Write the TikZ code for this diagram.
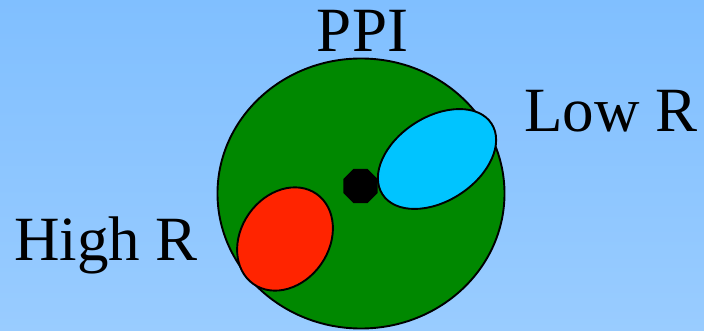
\documentclass[tikz,border=0pt]{standalone}
\usepackage{fontspec}
\setmainfont{Liberation Serif}
\usetikzlibrary{shapes.geometric}
\definecolor{bgtop}{RGB}{128,191,255}
\definecolor{bgbot}{RGB}{153,204,255}
\definecolor{ppigreen}{RGB}{0,136,0}
\definecolor{hired}{RGB}{255,36,0}
\definecolor{locyan}{RGB}{0,196,255}
\tikzset{
  region/.style={draw=black, line width=1.9pt},
  lbl/.style={font=\fontsize{63}{63}\selectfont, text=black, anchor=base, inner sep=0pt}
}
\begin{document}
\begin{tikzpicture}[x=1pt,y=-1pt]
\shade[top color=bgtop, bottom color=bgbot] (0,0) rectangle (704,331);
\useasboundingbox (0,0) rectangle (704,331);
\draw[region, fill=ppigreen] (361,193.5) ellipse [x radius=143.5, y radius=135];
\draw[region, fill=hired, rotate around={55:(285,239)}] (285,239) ellipse [x radius=55, y radius=44];
\draw[region, fill=locyan, rotate around={33:(437,159)}] (437,159) ellipse [x radius=65, y radius=42];
\node (core) [regular polygon, regular polygon sides=8, fill=black, inner sep=0pt, minimum size=37pt] at (360.5,186) {};
\node (ppi) [lbl] at (362.5,52) {PPI};
\node (low) [lbl] at (611,132) {Low R};
\node (high) [lbl] at (106,260) {High R};
\end{tikzpicture}
\end{document}
